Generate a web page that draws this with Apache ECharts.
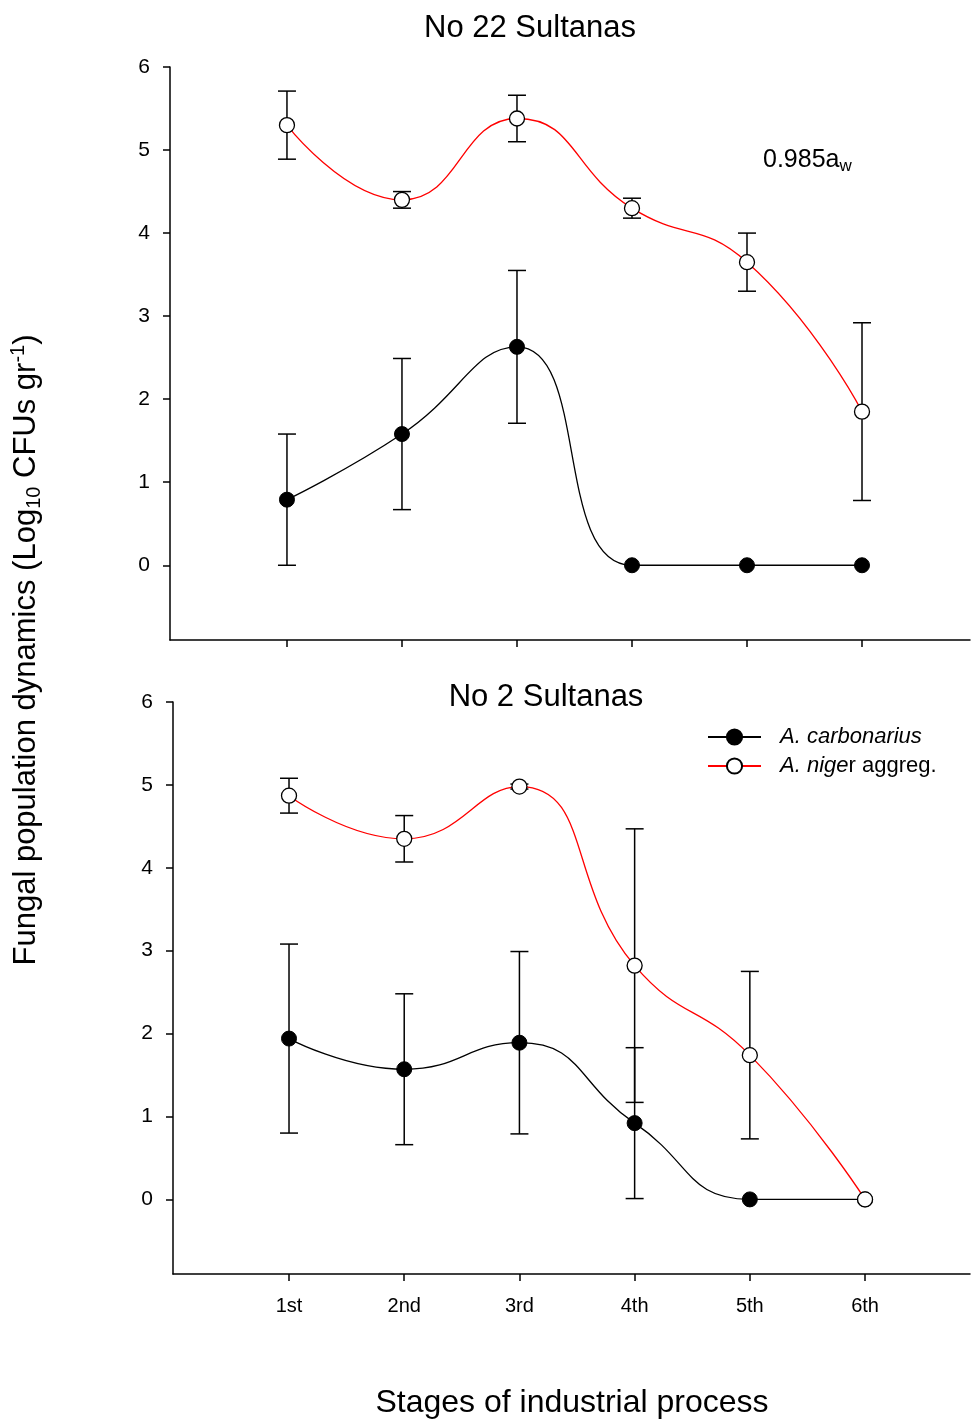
<!DOCTYPE html>
<html>
<head>
<meta charset="utf-8">
<script src="https://cdn.jsdelivr.net/npm/echarts@6/dist/echarts.min.js"></script>
<style>html,body{margin:0;padding:0;background:#fff}#c{width:971px;height:1421px}</style>
</head>
<body>
<div id="c"></div>
<script>
var stages = ['1st','2nd','3rd','4th','5th','6th'];
var yTicks = [0,1,2,3,4,5,6];
// Panel 1: No 22 Sultanas
var topNiger = [5.30, 4.40, 5.38, 4.30, 3.65, 1.85];
var topNigerErr = [0.41, 0.10, 0.28, 0.12, 0.35, 1.07];
var topCarb = [0.79, 1.58, 2.63, 0, 0, 0];
var topCarbErr = [0.79, 0.91, 0.92, 0, 0, 0];
// Panel 2: No 2 Sultanas
var botNiger = [4.87, 4.35, 4.98, 2.82, 1.74, 0];
var botNigerErr = [0.21, 0.28, 0.03, 1.65, 1.01, 0];
var botCarb = [1.94, 1.57, 1.89, 0.92, 0, 0];
var botCarbErr = [1.14, 0.91, 1.10, 0.91, 0, 0];

var FONT = 'Liberation Sans, Arial, sans-serif';

function pts(vals){ return vals.map(function(v,i){ return [i+1, v]; }); }
function errs(vals, e){ return vals.map(function(v,i){ return [i+1, v - e[i], v + e[i]]; }).filter(function(d){ return d[2] > d[1]; }); }

function errSeries(data, gi){
  return {
    type: 'custom', xAxisIndex: gi, yAxisIndex: gi, z: 1, silent: true,
    data: data,
    renderItem: function(params, api){
      var x = api.value(0), lo = api.value(1), hi = api.value(2);
      var p1 = api.coord([x, lo]), p2 = api.coord([x, hi]);
      var w = 9;
      var st = {stroke:'#000', lineWidth:1.5};
      return {type:'group', children:[
        {type:'line', shape:{x1:p1[0],y1:p1[1],x2:p2[0],y2:p2[1]}, style:st},
        {type:'line', shape:{x1:p1[0]-w,y1:p1[1],x2:p1[0]+w,y2:p1[1]}, style:st},
        {type:'line', shape:{x1:p2[0]-w,y1:p2[1],x2:p2[0]+w,y2:p2[1]}, style:st}
      ]};
    }
  };
}
function lineSeries(name, vals, gi, open){
  return {
    name: name, type:'line', xAxisIndex: gi, yAxisIndex: gi, z: open ? 4 : 3,
    data: pts(vals), smooth: 0.5, symbol:'circle', symbolSize: 15,
    lineStyle: {color: open ? '#ff0000' : '#000', width: 1.3},
    itemStyle: open ? {color:'#fff', borderColor:'#000', borderWidth:1.3} : {color:'#000', borderColor:'#000', borderWidth:1},
    emphasis: {disabled: true}
  };
}
function xAxis(gi, showLabels, mn, mx){
  return {
    type:'value', gridIndex: gi, min: mn, max: mx,
    axisLine:{show:true, onZero:false, lineStyle:{color:'#000', width:1.5}},
    axisTick:{show:true, customValues:[1,2,3,4,5,6], length:7, lineStyle:{color:'#000', width:1.5}},
    axisLabel:{show:showLabels, customValues:[1,2,3,4,5,6], margin:22, color:'#000', fontSize:20, fontFamily:FONT,
      formatter:function(v){ return stages[Math.round(v)-1] || ''; }},
    splitLine:{show:false}
  };
}
function yAxis(gi){
  return {
    type:'value', gridIndex: gi, min: -0.9, max: 6,
    axisLine:{show:true, onZero:false, lineStyle:{color:'#000', width:1.5}},
    axisTick:{show:true, customValues:yTicks, length:7, lineStyle:{color:'#000', width:1.5}},
    axisLabel:{customValues:yTicks, margin:20, color:'#000', fontSize:21, fontFamily:FONT},
    splitLine:{show:false}
  };
}

var chart = echarts.init(document.getElementById('c'), null, {renderer:'canvas'});
chart.setOption({
  animation:false,
  backgroundColor:'#fff',
  grid:[
    {left:170, top:67, width:800, height:573},
    {left:173, top:702, width:797, height:572}
  ],
  xAxis:[xAxis(0,false,-0.017,6.939), xAxis(1,true,-0.007,6.911)],
  yAxis:[yAxis(0), yAxis(1)],
  legend:{
    orient:'vertical', left:707, top:726, padding:0, itemGap:7, itemWidth:53, itemHeight:19,
    data:['A. carbonarius','A. niger aggreg.'],
    formatter:function(n){ return n === 'A. carbonarius' ? '{i|A. carbonarius}' : '{i|A. nige}{n|r aggreg.}'; },
    textStyle:{padding:[0,0,0,14], rich:{i:{fontStyle:'italic', fontSize:22, fontFamily:FONT, color:'#000'}, n:{fontSize:22, fontFamily:FONT, color:'#000'}}}
  },
  graphic:[
    {type:'text', x:530, y:28, style:{text:'No 22 Sultanas', font:'31px '+FONT, fill:'#000', align:'center', verticalAlign:'middle'}},
    {type:'text', x:546, y:697, style:{text:'No 2 Sultanas', font:'31px '+FONT, fill:'#000', align:'center', verticalAlign:'middle'}},
    {type:'text', x:763, y:160, style:{text:'0.985a{s|w}', font:'25px '+FONT, fill:'#000', align:'left', verticalAlign:'middle',
      rich:{s:{fontSize:17, fontFamily:FONT, padding:[13,0,0,0]}}}},
    {type:'text', x:26, y:650, rotation:Math.PI/2,
      style:{text:'Fungal population dynamics (Log{s|10} CFUs gr{p|-1})', font:'31px '+FONT, fill:'#000', align:'center', verticalAlign:'middle',
      rich:{s:{fontSize:20, fontFamily:FONT, padding:[16,0,0,0]}, p:{fontSize:20, fontFamily:FONT, padding:[0,0,16,0]}}}},
    {type:'text', x:572, y:1403, style:{text:'Stages of industrial process', font:'32px '+FONT, fill:'#000', align:'center', verticalAlign:'middle'}}
  ],
  series:[
    errSeries(errs(topNiger, topNigerErr), 0),
    errSeries(errs(topCarb, topCarbErr), 0),
    lineSeries('A. carbonarius', topCarb, 0, false),
    lineSeries('A. niger aggreg.', topNiger, 0, true),
    errSeries(errs(botNiger, botNigerErr), 1),
    errSeries(errs(botCarb, botCarbErr), 1),
    lineSeries('A. carbonarius', botCarb, 1, false),
    lineSeries('A. niger aggreg.', botNiger, 1, true)
  ]
});
</script>
</body>
</html>
